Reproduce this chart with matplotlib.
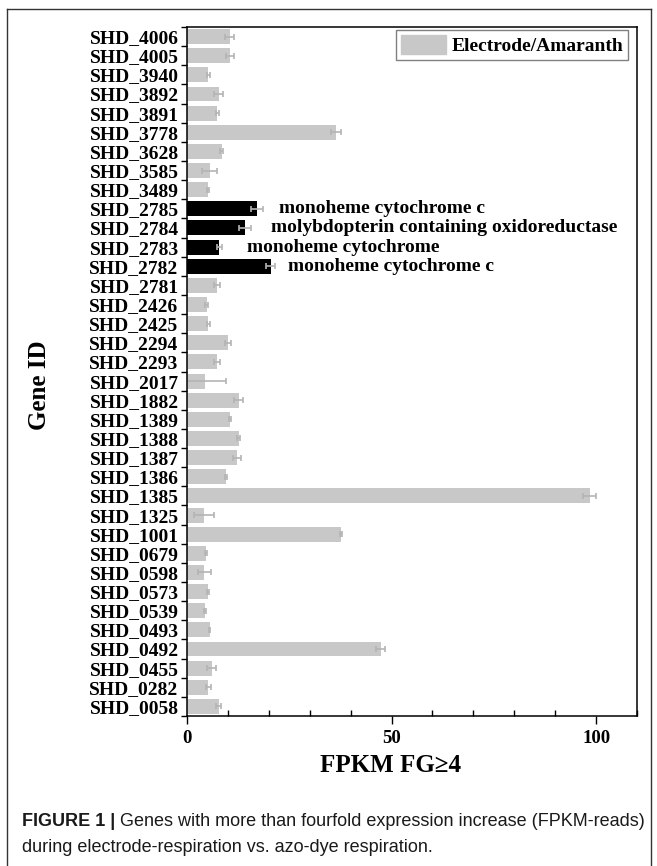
import numpy as np
import matplotlib.pyplot as plt
from matplotlib.lines import Line2D
from matplotlib.patches import Patch
from matplotlib.ticker import MultipleLocator

# gene ids from top to bottom, FPKM fold values and error
genes = ['SHD_4006', 'SHD_4005', 'SHD_3940', 'SHD_3892', 'SHD_3891', 'SHD_3778',
         'SHD_3628', 'SHD_3585', 'SHD_3489', 'SHD_2785', 'SHD_2784', 'SHD_2783',
         'SHD_2782', 'SHD_2781', 'SHD_2426', 'SHD_2425', 'SHD_2294', 'SHD_2293',
         'SHD_2017', 'SHD_1882', 'SHD_1389', 'SHD_1388', 'SHD_1387', 'SHD_1386',
         'SHD_1385', 'SHD_1325', 'SHD_1001', 'SHD_0679', 'SHD_0598', 'SHD_0573',
         'SHD_0539', 'SHD_0493', 'SHD_0492', 'SHD_0455', 'SHD_0282', 'SHD_0058']
fpkm = [10.4, 10.5, 5.2, 7.7, 7.4, 36.4,
        8.5, 5.5, 5.1, 17.1, 14.2, 7.9,
        20.5, 7.3, 4.8, 5.2, 10.0, 7.3,
        4.4, 12.6, 10.5, 12.6, 12.2, 9.5,
        98.4, 4.2, 37.6, 4.7, 4.2, 5.1,
        4.4, 5.5, 47.4, 6.0, 5.2, 7.7]
err = [1.0, 1.0, 0.3, 1.0, 0.3, 1.2,
       0.4, 1.8, 0.3, 1.4, 1.4, 0.6,
       1.1, 0.8, 0.3, 0.3, 0.8, 0.8,
       5.1, 1.0, 0.3, 0.4, 1.0, 0.2,
       1.6, 2.5, 0.3, 0.3, 1.6, 0.3,
       0.3, 0.2, 1.1, 1.2, 0.6, 0.6]

# highlighted genes with their annotation
highlight = {'SHD_2785': 'monoheme cytochrome c',
             'SHD_2784': 'molybdopterin containing oxidoreductase',
             'SHD_2783': 'monoheme cytochrome',
             'SHD_2782': 'monoheme cytochrome c'}
note_x = {'SHD_2785': 22.5, 'SHD_2784': 20.6, 'SHD_2783': 14.7, 'SHD_2782': 24.8}

plt.rcParams['font.family'] = ['Liberation Serif', 'DejaVu Serif']
plt.rcParams['font.weight'] = 'bold'

fig = plt.figure(figsize=(6.57, 8.66), dpi=100)
ax = fig.add_axes([187/657, 1 - 716/866, 450/657, 689/866])

ypos = np.arange(len(genes))
colors = ['black' if g in highlight else '#c8c8c8' for g in genes]
ax.barh(ypos, fpkm, height=0.78, color=colors, xerr=err,
        error_kw=dict(ecolor='#b4b4b4', elinewidth=1.2, capsize=2, capthick=1.2))

for i, g in enumerate(genes):
    if g in highlight:
        ax.text(note_x[g], i, highlight[g], va='center', ha='left',
                fontsize=14, fontweight='bold')

ax.set_ylim(len(genes) - 0.5, -0.5)
ax.set_xlim(0, 110)
ax.set_yticks(ypos)
ax.set_yticklabels(genes, fontsize=14, fontweight='bold')
ax.yaxis.set_minor_locator(MultipleLocator(1, offset=0.5))
ax.tick_params(axis='y', which='major', length=0, pad=6)
ax.tick_params(axis='y', which='minor', length=4, direction='out', width=1)

ax.set_xticks([0, 50, 100])
ax.set_xticklabels(['0', '50', '100'], fontsize=13.5, fontweight='bold')
ax.xaxis.set_minor_locator(MultipleLocator(10))
ax.tick_params(axis='x', which='major', length=6, direction='out', width=1, pad=4)
ax.tick_params(axis='x', which='minor', length=4, direction='in', width=1)
for s in ax.spines.values():
    s.set_linewidth(1.1)

leg = ax.legend(handles=[Patch(color='#c8c8c8', label='Electrode/Amaranth')],
                loc='upper right', bbox_to_anchor=(0.985, 0.998),
                prop=dict(size=14, weight='bold'), fancybox=False,
                edgecolor='#808080', framealpha=1, borderpad=0.25,
                handlelength=2.3, handleheight=1.1, handletextpad=0.3,
                borderaxespad=0.1)
leg.get_frame().set_linewidth(1)

fig.text(391/657, 1 - 765/866, 'FPKM FG\u22654', ha='center', va='center',
         fontsize=18, fontweight='bold')
fig.text(40/657, 1 - 385/866, 'Gene ID', ha='center', va='center',
         rotation=90, fontsize=18, fontweight='bold')

# caption, bold label first then the rest placed right after it
cap_font = ['Liberation Sans', 'DejaVu Sans']
lead = fig.text(22/657, 1 - 822/866, 'FIGURE 1 |', ha='left', va='center',
                fontsize=13, fontweight='bold', family=cap_font, color='#1a1a1a')
renderer = fig.canvas.get_renderer()
bb = lead.get_window_extent(renderer)
fig.text(bb.x1 / 657 + 5/657, 1 - 822/866,
         'Genes with more than fourfold expression increase (FPKM-reads)',
         ha='left', va='center', fontsize=13, fontweight='normal',
         family=cap_font, color='#1a1a1a')
fig.text(22/657, 1 - 847/866, 'during electrode-respiration vs. azo-dye respiration.',
         ha='left', va='center', fontsize=13, fontweight='normal',
         family=cap_font, color='#1a1a1a')

# outer frame
for xs, ys in [([7, 7], [866, 9]), ([7, 651], [9, 9]), ([651, 651], [9, 866])]:
    fig.add_artist(Line2D([x / 657 for x in xs], [1 - y / 866 for y in ys],
                          color='#333333', linewidth=1))

fig.savefig('out.png', dpi=100)
